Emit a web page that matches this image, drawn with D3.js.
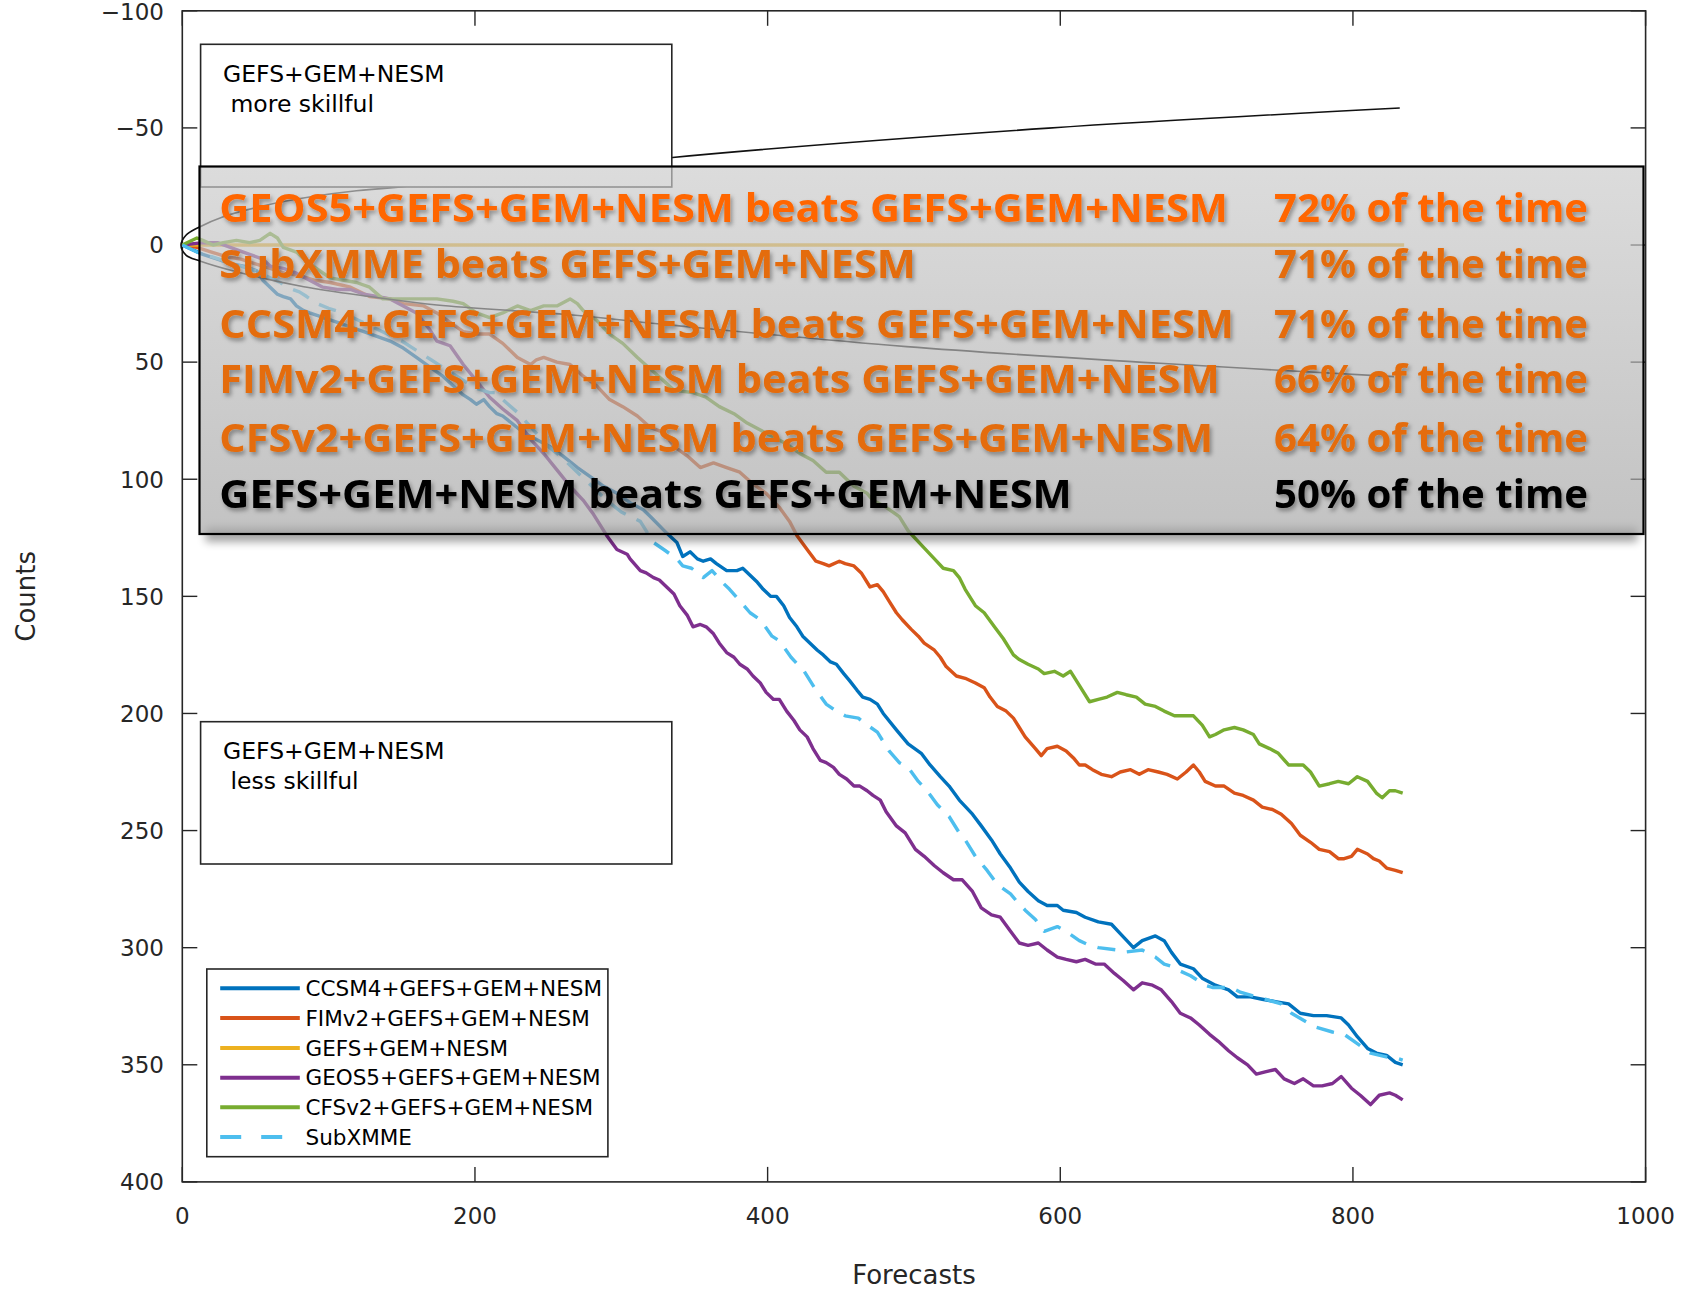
<!DOCTYPE html>
<html><head><meta charset="utf-8">
<script src="https://cdn.jsdelivr.net/npm/d3@7"></script>
<style>html,body{margin:0;padding:0;background:#fff;} svg{display:block}</style>
</head><body>
<svg id="chart" width="1691" height="1289"></svg>
<script>
// ---------------- data ----------------
const seriesNames = ["CCSM4+GEFS+GEM+NESM","FIMv2+GEFS+GEM+NESM","GEFS+GEM+NESM","GEOS5+GEFS+GEM+NESM","CFSv2+GEFS+GEM+NESM","SubXMME"];
const seriesColors = ["#0072BD","#D95319","#EDB120","#7E2F8E","#77AC30","#4DBEEE"];
const seriesDashed = [false,false,false,false,false,true];

const ccsm4 = [[0,0],[14,4],[24,6],[33,8],[42,9],[51,11],[55,15],[60,18],[65,21],[69,22],[74,23],[78,26],[83,28],[87,29],[92,30],[96,31],[101,32],[106,33],[115,35],[124,37],[133,39],[142,41],[151,44],[160,48],[169,52],[178,56],[185,60],[192,64],[197,66],[201,68],[206,66],[210,69],[215,72],[219,73],[229,78],[233,80],[242,83],[251,86],[260,90],[270,95],[279,99],[288,103],[297,106],[306,110],[315,113],[320,116],[331,123],[338,127],[342,133],[347,131],[352,134],[356,135],[361,134],[365,136],[372,139],[379,139],[383,138],[388,141],[393,144],[397,147],[402,150],[406,150],[411,154],[415,159],[420,163],[424,167],[429,170],[434,173],[438,175],[443,178],[447,179],[452,183],[456,186],[461,190],[465,193],[470,194],[475,196],[479,200],[488,207],[496,213],[505,217],[511,222],[518,227],[524,231],[531,237],[540,243],[546,248],[553,254],[559,260],[566,266],[572,272],[578,276],[585,280],[591,282],[598,282],[602,284],[611,285],[617,287],[626,289],[635,290],[641,294],[650,300],[656,297],[665,295],[671,297],[676,302],[682,307],[691,309],[697,313],[706,316],[715,318],[721,321],[730,321],[738,322],[747,323],[756,324],[764,328],[773,329],[782,329],[792,330],[797,333],[803,338],[810,343],[816,345],[823,346],[829,349],[834,350]];

const fimv2 = [[0,0],[10,1],[20,3],[30,5],[40,6],[50,8],[60,10],[70,12],[80,13],[90,15],[101,16],[115,18],[128,22],[142,23],[151,25],[165,26],[174,29],[183,33],[192,37],[201,38],[210,38],[219,42],[229,48],[238,51],[242,49],[247,48],[256,50],[265,51],[274,56],[283,60],[292,66],[301,69],[311,73],[320,78],[329,80],[336,86],[345,90],[354,95],[363,93],[372,95],[381,97],[390,102],[399,106],[408,112],[415,118],[420,124],[427,130],[433,135],[438,136],[442,137],[449,135],[453,136],[459,137],[464,140],[470,146],[475,145],[479,148],[483,152],[488,157],[492,160],[498,164],[503,167],[507,170],[514,173],[518,176],[522,180],[529,184],[535,185],[542,187],[548,189],[552,193],[557,197],[563,199],[568,202],[572,206],[576,210],[583,215],[587,218],[591,215],[598,214],[604,216],[609,219],[613,222],[617,222],[622,224],[628,226],[635,227],[641,225],[648,224],[654,226],[660,224],[667,225],[673,226],[680,228],[686,225],[691,222],[695,225],[699,229],[706,231],[712,231],[719,234],[725,235],[732,237],[738,240],[745,241],[751,243],[758,247],[764,252],[771,255],[777,258],[784,259],[790,262],[794,262],[799,261],[803,258],[810,260],[814,262],[818,263],[823,266],[829,267],[834,268]];

const gefs = [[0,0],[835,0]];

const geos5 = [[0,0],[14,-1],[24,-1],[37,2],[46,4],[55,6],[60,9],[69,10],[78,12],[87,15],[96,18],[106,19],[115,19],[124,21],[133,22],[142,23],[151,26],[160,29],[169,36],[174,41],[183,43],[192,51],[201,58],[210,65],[219,70],[229,75],[238,83],[247,89],[256,96],[265,103],[274,109],[281,115],[290,124],[297,130],[304,132],[306,134],[313,139],[317,140],[322,142],[326,143],[331,146],[336,149],[340,154],[345,158],[349,163],[354,162],[358,163],[363,166],[367,170],[372,174],[377,176],[381,179],[386,181],[390,184],[395,187],[399,191],[404,194],[408,194],[413,199],[418,203],[422,207],[427,210],[431,215],[436,220],[440,221],[445,223],[449,226],[454,228],[459,231],[463,231],[468,233],[472,235],[477,237],[481,242],[488,248],[494,251],[501,258],[507,261],[514,265],[520,268],[527,271],[533,271],[540,276],[546,283],[553,286],[559,287],[566,293],[572,298],[578,299],[585,298],[591,301],[598,304],[604,305],[611,306],[617,305],[624,307],[630,307],[637,311],[643,314],[650,318],[656,315],[663,316],[669,318],[676,323],[682,328],[689,330],[695,333],[702,337],[708,340],[715,344],[721,347],[728,350],[734,354],[740,353],[747,352],[753,356],[760,358],[766,356],[773,359],[779,359],[786,358],[792,355],[799,360],[805,363],[812,367],[818,363],[825,362],[829,363],[834,365]];

const cfsv2 = [[0,0],[10,-3],[14,-2],[21,0],[28,-1],[37,-2],[46,-1],[53,-2],[60,-5],[65,-3],[69,1],[78,3],[87,8],[101,14],[119,16],[128,18],[137,23],[147,23],[156,23],[165,23],[174,23],[185,24],[192,25],[201,29],[210,31],[219,29],[229,26],[238,28],[247,26],[256,26],[265,23],[270,25],[274,28],[283,32],[292,38],[301,42],[311,48],[320,53],[329,58],[336,62],[349,63],[358,65],[367,69],[377,72],[386,76],[395,79],[404,82],[413,85],[422,89],[431,92],[440,97],[449,97],[459,103],[468,106],[472,109],[481,112],[490,116],[496,122],[505,128],[514,134],[520,138],[527,139],[531,142],[535,147],[542,154],[548,157],[555,163],[561,168],[568,175],[572,177],[578,179],[585,181],[589,183],[596,182],[602,184],[607,182],[613,188],[620,195],[626,194],[632,193],[639,191],[645,192],[652,193],[658,196],[665,197],[671,199],[678,201],[684,201],[691,201],[697,205],[702,210],[706,209],[712,207],[719,206],[725,207],[732,209],[736,213],[743,215],[749,217],[756,222],[762,222],[766,222],[771,225],[777,231],[784,230],[790,229],[797,230],[803,227],[810,229],[816,234],[820,236],[825,233],[829,233],[834,234]];

const subxmme = [[0,0],[10,3],[20,5],[30,7],[40,9],[50,11],[60,14],[67,16],[71,18],[80,20],[85,22],[92,25],[100,27],[110,29],[120,32],[130,35],[140,38],[150,41],[160,45],[170,49],[180,53],[190,57],[200,61],[210,63],[215,63],[219,66],[230,72],[240,79],[250,86],[260,91],[270,97],[280,103],[290,109],[300,114],[313,118],[322,127],[329,130],[338,134],[342,137],[348,138],[356,142],[362,139],[369,144],[374,147],[381,152],[388,157],[395,160],[403,167],[408,169],[416,176],[425,182],[432,189],[440,196],[447,199],[453,201],[462,202],[466,204],[475,208],[483,216],[490,221],[496,223],[503,229],[509,233],[516,239],[524,244],[531,251],[535,254],[542,261],[550,267],[557,273],[566,277],[570,280],[576,284],[583,288],[589,293],[598,291],[604,293],[613,297],[620,299],[626,300],[639,301],[643,302],[656,301],[665,304],[671,307],[676,308],[682,310],[689,312],[699,316],[704,317],[717,317],[723,319],[734,321],[740,322],[751,324],[758,328],[769,332],[775,334],[786,336],[794,337],[803,341],[812,345],[825,347],[829,347],[834,348]];

const seriesData = [ccsm4, fimv2, gefs, geos5, cfsv2, subxmme];

const xTicks = [0,200,400,600,800,1000];
const yTicks = [-100,-50,0,50,100,150,200,250,300,350,400];
const xLabel = "Forecasts";
const yLabel = "Counts";

// callout lens (annotation) in data units
const calloutPath = [[832,-58.5],[592,-49.9],[335,-37.4],[142,-24.4],[119,-23.2],[89,-20.7],[58,-17.1],[28,-12.1],[10.7,-7.4],[2.5,-4.2],[-0.9,0],[2.5,4.3],[12,6.8],[37,11.4],[83,17.8],[128,22],[174,25.6],[265,29.8],[333,34.1],[495,43.4],[668,50.5],[828,56.2]];

const summaryLabels = ["GEOS5+GEFS+GEM+NESM beats GEFS+GEM+NESM","SubXMME beats GEFS+GEM+NESM","CCSM4+GEFS+GEM+NESM beats GEFS+GEM+NESM","FIMv2+GEFS+GEM+NESM beats GEFS+GEM+NESM","CFSv2+GEFS+GEM+NESM beats GEFS+GEM+NESM","GEFS+GEM+NESM beats GEFS+GEM+NESM"];
const summaryPct = ["72% of the time","71% of the time","71% of the time","66% of the time","64% of the time","50% of the time"];
const summaryColors = ["#FF6600","#E46C0A","#E46C0A","#E46C0A","#E46C0A","#000000"];

const moreBoxText = ["GEFS+GEM+NESM"," more skillful"];
const lessBoxText = ["GEFS+GEM+NESM"," less skillful"];

// ---------------- layout ----------------
const W = 1691, H = 1289;
const plot = {left:182.3, right:1645.6, top:10.8, bottom:1181.9};
const axisColor = "#262626";
const tickFont = "'DejaVu Sans', sans-serif";

const svg = d3.select("#chart");
const x = d3.scaleLinear().domain([0,1000]).range([plot.left, plot.right]);
const y = d3.scaleLinear().domain([-100,400]).range([plot.top, plot.bottom]);

const defs = svg.append("defs");
const grad = defs.append("linearGradient").attr("id","ovGrad").attr("x1",0).attr("y1",0).attr("x2",0).attr("y2",1);
grad.append("stop").attr("offset","0%").attr("stop-color","#cbcbcb");
grad.append("stop").attr("offset","100%").attr("stop-color","#a6a6a6");
const tf = defs.append("filter").attr("id","tshadow").attr("x","-5%").attr("y","-30%").attr("width","110%").attr("height","170%");
tf.append("feDropShadow").attr("dx",2).attr("dy",3).attr("stdDeviation",2.2).attr("flood-color","#000").attr("flood-opacity",0.35);
const bf = defs.append("filter").attr("id","blur6").attr("x","-10%").attr("y","-100%").attr("width","120%").attr("height","300%");
bf.append("feGaussianBlur").attr("stdDeviation",4);

svg.append("rect").attr("width",W).attr("height",H).attr("fill","#fff");

// axes frame
const axG = svg.append("g");
axG.append("rect").attr("x",plot.left).attr("y",plot.top)
  .attr("width",plot.right-plot.left).attr("height",plot.bottom-plot.top)
  .attr("fill","none").attr("stroke",axisColor).attr("stroke-width",1.6);
const tickLen = 15;
xTicks.forEach(t=>{
  axG.append("line").attr("x1",x(t)).attr("x2",x(t)).attr("y1",plot.bottom).attr("y2",plot.bottom-tickLen).attr("stroke",axisColor).attr("stroke-width",1.4);
  axG.append("line").attr("x1",x(t)).attr("x2",x(t)).attr("y1",plot.top).attr("y2",plot.top+tickLen).attr("stroke",axisColor).attr("stroke-width",1.4);
  axG.append("text").attr("x",x(t)).attr("y",1224).attr("text-anchor","middle")
    .attr("font-family",tickFont).attr("font-size",23).attr("fill",axisColor).text(d3.format("d")(t));
});
yTicks.forEach(t=>{
  axG.append("line").attr("x1",plot.left).attr("x2",plot.left+tickLen).attr("y1",y(t)).attr("y2",y(t)).attr("stroke",axisColor).attr("stroke-width",1.4);
  axG.append("line").attr("x1",plot.right).attr("x2",plot.right-tickLen).attr("y1",y(t)).attr("y2",y(t)).attr("stroke",axisColor).attr("stroke-width",1.4);
  axG.append("text").attr("x",164).attr("y",Math.max(y(t),11.5)).attr("dy","0.36em").attr("text-anchor","end")
    .attr("font-family",tickFont).attr("font-size",23).attr("fill",axisColor).text(t<0 ? "\u2212"+Math.abs(t) : String(t));
});
svg.append("text").attr("x",(plot.left+plot.right)/2).attr("y",1284).attr("text-anchor","middle")
  .attr("font-family",tickFont).attr("font-size",26).attr("fill",axisColor).text(xLabel);
svg.append("text").attr("transform",`translate(35,${(plot.top+plot.bottom)/2}) rotate(-90)`).attr("text-anchor","middle")
  .attr("font-family",tickFont).attr("font-size",26).attr("fill",axisColor).text(yLabel);

// data lines
const line = d3.line().x(d=>x(d[0])).y(d=>y(d[1])).curve(d3.curveLinear);
const linesG = svg.append("g");
seriesData.forEach((s,i)=>{
  linesG.append("path").attr("d",line(s)).attr("fill","none")
    .attr("stroke",seriesColors[i]).attr("stroke-width",3.4)
    .attr("stroke-linejoin","round")
    .attr("stroke-dasharray",seriesDashed[i] ? "18,12" : null);
});

// callout lens
const lens = d3.line().x(d=>x(d[0])).y(d=>y(d[1])).curve(d3.curveCatmullRom.alpha(0.5));
svg.append("path").attr("d",lens(calloutPath)).attr("fill","none").attr("stroke","#111").attr("stroke-width",1.6);

// text boxes
const boxX0 = 200.6, boxX1 = 671.8;
function textBox(y0,y1,lines,base1){
  svg.append("rect").attr("x",boxX0).attr("y",y0).attr("width",boxX1-boxX0).attr("height",y1-y0)
    .attr("fill","#fff").attr("stroke",axisColor).attr("stroke-width",1.6);
  svg.append("text").attr("x",223).attr("y",base1).attr("font-family",tickFont).attr("font-size",23.5).attr("fill","#000").text(lines[0]);
  svg.append("text").attr("x",223).attr("y",base1+30).attr("font-family",tickFont).attr("font-size",23.5).attr("fill","#000")
    .attr("xml:space","preserve").style("white-space","pre").text(lines[1]);
}
textBox(44.3,187,moreBoxText,81.7);

// overlay summary panel
const ov = {x0:199.5, x1:1643.5, y0:166.5, y1:534};
svg.append("rect").attr("x",ov.x0+6).attr("y",ov.y1-6).attr("width",ov.x1-ov.x0-12).attr("height",14)
  .attr("fill","#000").attr("opacity",0.35).attr("filter","url(#blur6)");
svg.append("rect").attr("x",ov.x0).attr("y",ov.y0).attr("width",ov.x1-ov.x0).attr("height",ov.y1-ov.y0)
  .attr("fill","url(#ovGrad)").attr("fill-opacity",0.68).attr("stroke","#000").attr("stroke-width",2.2);

const rowBase = [221.7,278.3,338.3,393.3,451.7,508];
const rowWidth = [1008.7,696.3,1014.7,1000.4,993.7,852.4];
const sumFont = "'Open Sans', Lato, sans-serif";
summaryLabels.forEach((t,i)=>{
  svg.append("text").attr("x",219.3).attr("y",rowBase[i]).attr("font-family",sumFont).attr("font-weight",700)
    .attr("font-size",38.5).attr("fill",summaryColors[i]).attr("filter","url(#tshadow)")
    .attr("textLength",rowWidth[i]).attr("lengthAdjust","spacingAndGlyphs").text(t);
  svg.append("text").attr("x",1274).attr("y",rowBase[i]).attr("font-family",sumFont).attr("font-weight",700)
    .attr("font-size",38.5).attr("fill",summaryColors[i]).attr("filter","url(#tshadow)")
    .attr("textLength",314).attr("lengthAdjust","spacingAndGlyphs").text(summaryPct[i]);
});

// "less skillful" box
textBox(721.7,864,lessBoxText,759.3);

// legend
const lg = {x0:206.8, x1:607.9, y0:969, y1:1156.7};
svg.append("rect").attr("x",lg.x0).attr("y",lg.y0).attr("width",lg.x1-lg.x0).attr("height",lg.y1-lg.y0)
  .attr("fill","#fff").attr("stroke",axisColor).attr("stroke-width",1.6);
const legRowY = [988.3,1018.1,1047.9,1077.7,1107.3,1136.9];
seriesNames.forEach((n,i)=>{
  svg.append("line").attr("x1",220.2).attr("x2",299.8).attr("y1",legRowY[i]).attr("y2",legRowY[i])
    .attr("stroke",seriesColors[i]).attr("stroke-width",4)
    .attr("stroke-dasharray",seriesDashed[i] ? "21,20" : null);
  svg.append("text").attr("x",305.5).attr("y",legRowY[i]).attr("dy","0.36em").attr("font-family",tickFont)
    .attr("font-size",21.5).attr("fill","#000").text(n);
});
</script>
</body></html>
